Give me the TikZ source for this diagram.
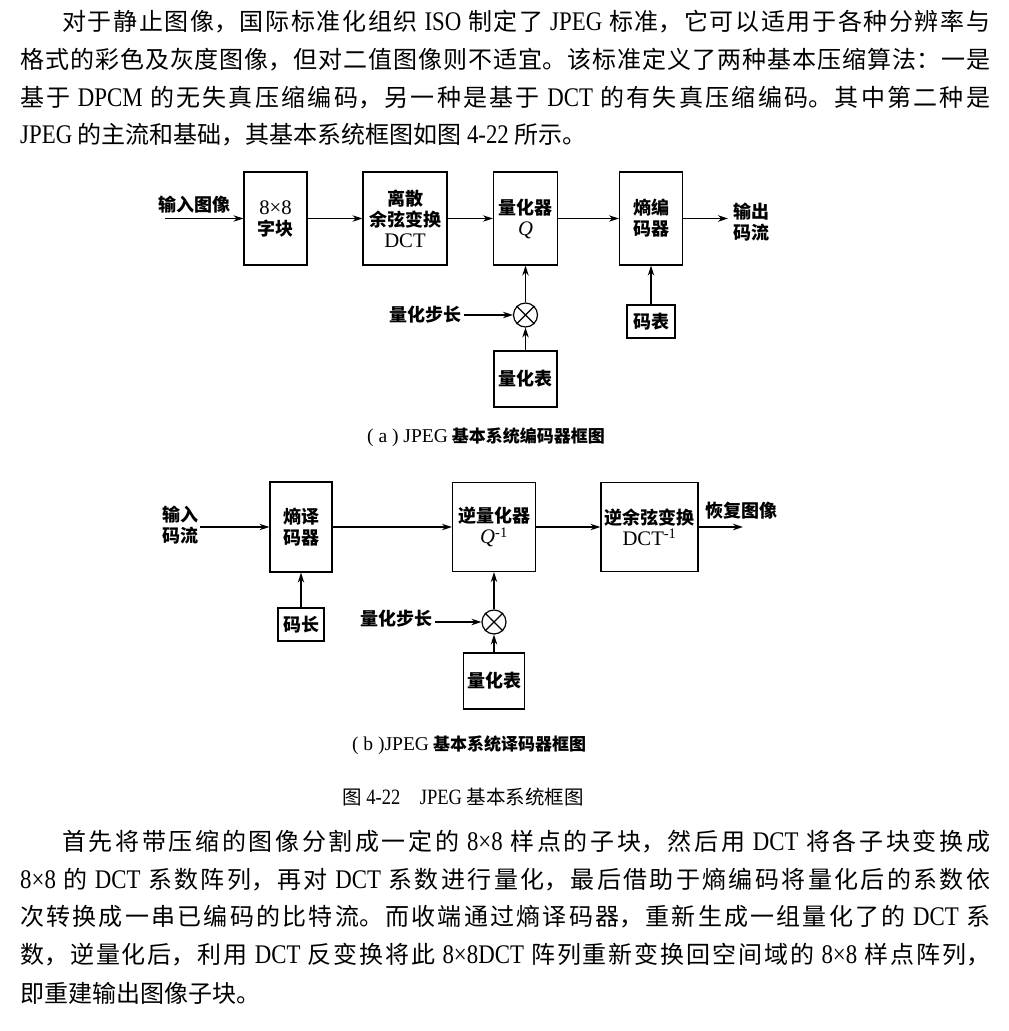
\documentclass[tikz,border=0pt]{standalone}
\usepackage{fontspec}
\setmainfont{Liberation Serif}
\newfontfamily\cjk{Noto Sans CJK SC}
\newfontfamily\latb[FakeStretch=0.85,Scale=1.12]{Liberation Serif}
\newfontfamily\latd[Scale=1.15]{Liberation Serif}
\usetikzlibrary{arrows.meta}
\XeTeXlinebreaklocale "zh"
\XeTeXlinebreakskip=0pt plus 3pt minus 0.2pt
\newcommand\lt[1]{{\latd\mdseries #1}}
\newcommand\bl[1]{{\latb\mdseries #1}}
\newcommand\jline[1]{\noindent\parfillskip=0pt\relax #1\par}
\begin{document}
\begin{tikzpicture}[x=1pt,y=-1pt,
  lab/.style={font=\cjk\bfseries\fontsize{18}{21}\selectfont, inner sep=2pt, align=center},
  blok/.style={draw, line width=1.3pt, inner sep=0pt, align=center, font=\cjk\bfseries\fontsize{18}{21}\selectfont},
  arr/.style={-{Stealth[length=10pt,width=6.5pt]}, line width=1.2pt},
  mult/.style={circle, draw, line width=1.2pt, minimum size=24pt, inner sep=0pt},
  body/.style={anchor=west, inner sep=0pt, font=\cjk\fontsize{24}{30}\selectfont, align=justify},
  bodyl/.style={anchor=west, inner sep=0pt, font=\cjk\fontsize{24}{30}\selectfont},
  capt/.style={inner sep=0pt, font=\cjk\bfseries\fontsize{17}{20}\selectfont}
]
\fill[white] (0,0) rectangle (1009,1031);
\useasboundingbox (0,0) rectangle (1009,1031);

% paragraph 1
\node[body, text width=928pt] (p1a) at (62,22) {\jline{对于静止图像，国际标准化组织 \bl{ISO} 制定了 \bl{JPEG} 标准，它可以适用于各种分辨率与}};
\node[body, text width=970pt] (p1b) at (20,60) {\jline{格式的彩色及灰度图像，但对二值图像则不适宜。该标准定义了两种基本压缩算法：一是}};
\node[body, text width=970pt] (p1c) at (20,98) {\jline{基于 \bl{DPCM} 的无失真压缩编码，另一种是基于 \bl{DCT} 的有失真压缩编码。其中第二种是}};
\node[bodyl] (p1d) at (20,135) {\bl{JPEG} 的主流和基础，其基本系统框图如图 \bl{4-22} 所示。};

% encoder
\node[blok, minimum width=63pt, minimum height=93pt] (blk) at (275.5,218.5) {\lt{8×8}\\字块};
\node[blok, minimum width=84pt, minimum height=93pt] (dct) at (405,218.5) {离散\\余弦变换\\\lt{DCT}};
\node[blok, minimum width=64pt, minimum height=93pt] (q) at (525.5,218.5) {量化器\\\lt{\itshape Q}};
\node[blok, minimum width=63pt, minimum height=93pt] (ent) at (651,218.5) {熵编\\码器};
\node[lab, anchor=west] (inA) at (156,205) {输入图像};
\coordinate (inAs) at (165,218.5);
\node[lab] (outA) at (751,222) {输出\\码流};
\coordinate (outAe) at (728,218.5);
\node[mult] (mulA) at (525.5,315) {};
\draw[line width=1.2pt] (mulA.north west) -- (mulA.south east) (mulA.north east) -- (mulA.south west);
\node[lab, anchor=east] (stA) at (464,315) {量化步长};
\node[blok, minimum width=63pt, minimum height=56pt] (qtA) at (525.5,379) {量化表};
\node[blok, minimum width=48pt, minimum height=33pt] (ctab) at (651,321.5) {码表};

\draw[arr] (inAs) -- (blk);
\draw[arr] (blk) -- (dct);
\draw[arr] (dct) -- (q);
\draw[arr] (q) -- (ent);
\draw[arr] (ent) -- (outAe);
\draw[arr] (stA.east |- mulA) -- (mulA);
\draw[arr] (qtA) -- (mulA);
\draw[arr] (mulA) -- (q);
\draw[arr] (ctab) -- (ent);

\node[capt] (capA) at (486,437) {\lt{( a ) JPEG} 基本系统编码器框图};

% decoder
\node[lab] (inB) at (180,525) {输入\\码流};
\coordinate (inBs) at (200,527);
\node[blok, minimum width=62pt, minimum height=90pt] (entd) at (301,527) {熵译\\码器};
\node[blok, minimum width=83pt, minimum height=89pt] (iq) at (494,527) {逆量化器\\\lt{{\itshape Q}\textsuperscript{-1}}};
\node[blok, minimum width=97pt, minimum height=89pt] (idct) at (649.5,527) {逆余弦变换\\\lt{DCT\textsuperscript{-1}}};
\coordinate (outBe) at (743,527);
\node[lab] (outB) at (741.5,511) {恢复图像};
\node[blok, minimum width=46pt, minimum height=33pt] (clen) at (301,624.5) {码长};
\node[mult] (mulB) at (494,622) {};
\draw[line width=1.2pt] (mulB.north west) -- (mulB.south east) (mulB.north east) -- (mulB.south west);
\node[lab, anchor=east] (stB) at (435,619) {量化步长};
\node[blok, minimum width=61pt, minimum height=56pt] (qtB) at (494,681) {量化表};

\draw[arr] (inBs) -- (entd);
\draw[arr] (entd) -- (iq);
\draw[arr] (iq) -- (idct);
\draw[arr] (idct) -- (outBe);
\draw[arr] (clen) -- (entd);
\draw[arr] (stB.east |- mulB) -- (mulB);
\draw[arr] (qtB) -- (mulB);
\draw[arr] (mulB) -- (iq);

\node[capt] (capB) at (469,745) {\lt{( b )JPEG} 基本系统译码器框图};
\node[inner sep=0pt, font=\cjk\fontsize{19.5}{22}\selectfont] (fig) at (463,797) {图 \bl{4-22}\quad \bl{JPEG} 基本系统框图};

% paragraph 2
\node[body, text width=928pt] (p2a) at (62,842) {\jline{首先将带压缩的图像分割成一定的 \bl{8×8} 样点的子块，然后用 \bl{DCT} 将各子块变换成}};
\node[body, text width=970pt] (p2b) at (20,880) {\jline{\bl{8×8} 的 \bl{DCT} 系数阵列，再对 \bl{DCT} 系数进行量化，最后借助于熵编码将量化后的系数依}};
\node[body, text width=970pt] (p2c) at (20,917) {\jline{次转换成一串已编码的比特流。而收端通过熵译码器，重新生成一组量化了的 \bl{DCT} 系}};
\node[body, text width=970pt] (p2d) at (20,955) {\jline{数，逆量化后，利用 \bl{DCT} 反变换将此 \bl{8×8DCT} 阵列重新变换回空间域的 \bl{8×8} 样点阵列，}};
\node[bodyl] (p2e) at (20,993) {即重建输出图像子块。};
\end{tikzpicture}
\end{document}
